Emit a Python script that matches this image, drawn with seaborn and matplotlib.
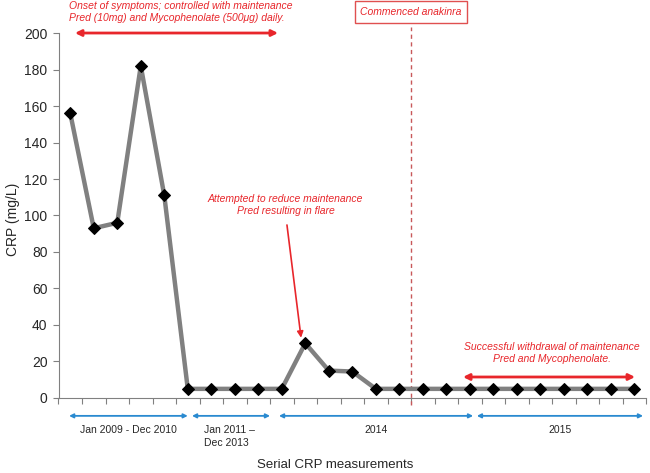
import numpy as np
import pandas as pd
import matplotlib
matplotlib.use("Agg")
import matplotlib.pyplot as plt
import matplotlib.transforms as mtransforms
import seaborn as sns

# ---- data ----
measurement = list(range(25))
crp = [156, 93, 96, 182, 111, 5, 5, 5, 5, 5, 30, 15, 14.5,
       5, 5, 5, 5, 5, 5, 5, 5, 5, 5, 5, 5]
period_labels = ["Jan 2009 - Dec 2010", "Jan 2011 \u2013\nDec 2013", "2014", "2015"]
period_spans = [(-0.05, 5.0), (5.18, 8.5), (8.88, 17.14), (17.3, 24.37)]
y_ticks = [0, 20, 40, 60, 80, 100, 120, 140, 160, 180, 200]
anakinra_x = 14.5

sns.set_style("ticks")
plt.rcParams['font.family'] = ['Liberation Sans', 'DejaVu Sans']

df = pd.DataFrame({"m": measurement, "crp": crp})

fig = plt.figure(figsize=(6.5, 4.73), dpi=100)
ax = fig.add_axes([0.09, 0.1586, 0.904, 0.7716])

sns.lineplot(data=df, x="m", y="crp", ax=ax, color="#808080", linewidth=3.2,
             marker="D", markersize=5.8, markerfacecolor="black",
             markeredgecolor="black", zorder=3)

ax.set_xlim(-0.5, 24.5)
ax.set_ylim(0, 200)
ax.set_yticks(y_ticks)
ax.set_xticks(np.arange(-0.5, 25, 1))
ax.set_xticklabels([])
ax.tick_params(axis="y", labelsize=10, length=4, color="#808080", width=0.8, pad=4)
ax.tick_params(axis="x", length=4, color="#808080", width=0.8)
for s in ["top", "right"]:
    ax.spines[s].set_visible(False)
for s in ["left", "bottom"]:
    ax.spines[s].set_color("#808080")
    ax.spines[s].set_linewidth(0.8)
ax.set_ylabel("CRP (mg/L)", fontsize=10)
ax.yaxis.set_label_coords(-0.066, 0.49)
ax.set_xlabel("")

red = "#e8262b"
blue = "#2a8ad0"
fs = 7.5
trans = mtransforms.blended_transform_factory(ax.transData, ax.transAxes)

# anakinra dashed line and box
ax.plot([anakinra_x, anakinra_x], [-0.02, 1.016], transform=trans,
        color="#c8585a", linestyle=(0, (3, 2.5)), linewidth=1.0,
        clip_on=False, zorder=1)
ax.text(anakinra_x, 1.0575, "Commenced anakinra", transform=trans, ha="center",
        va="center", fontsize=fs, style="italic", color=red,
        bbox=dict(boxstyle="square,pad=0.55", fc="white", ec="#e05050", lw=1.0))

# onset annotation
ax.text(-0.05, 1.0575, "Onset of symptoms; controlled with maintenance\n"
        "Pred (10mg) and Mycophenolate (500\u03bcg) daily.",
        transform=trans, ha="left", va="center", fontsize=fs,
        style="italic", color=red, linespacing=1.25)
ax.annotate("", xy=(0.2, 200), xytext=(8.84, 200),
            arrowprops=dict(arrowstyle="<|-|>", color=red, lw=2.0,
                            mutation_scale=9, shrinkA=0, shrinkB=0),
            annotation_clip=False)

# flare annotation
ax.text(9.16, 105.8, "Attempted to reduce maintenance\nPred resulting in flare",
        ha="center", va="center", fontsize=fs, style="italic", color=red,
        linespacing=1.25)
ax.annotate("", xy=(9.82, 33), xytext=(9.22, 94.8),
            arrowprops=dict(arrowstyle="-|>", color=red, lw=1.2,
                            mutation_scale=9, shrinkA=0, shrinkB=0))

# withdrawal annotation
ax.text(20.5, 24.7, "Successful withdrawal of maintenance\nPred and Mycophenolate.",
        ha="center", va="center", fontsize=fs, style="italic", color=red,
        linespacing=1.25)
ax.annotate("", xy=(16.71, 11.5), xytext=(24.03, 11.5),
            arrowprops=dict(arrowstyle="<|-|>", color=red, lw=2.0,
                            mutation_scale=9, shrinkA=0, shrinkB=0),
            annotation_clip=False)

# period arrows below axis
for (x0, x1), lab in zip(period_spans, period_labels):
    ax.annotate("", xy=(x0, -0.049), xytext=(x1, -0.049), xycoords=trans,
                textcoords=trans,
                arrowprops=dict(arrowstyle="<|-|>", color=blue, lw=1.3,
                                mutation_scale=6, shrinkA=0, shrinkB=0),
                annotation_clip=False)
    if "\n" in lab:
        ax.text(x0 + 0.5, -0.073, lab, transform=trans, ha="left", va="top",
                fontsize=fs, linespacing=1.4)
    else:
        ax.text((x0 + x1) / 2, -0.073, lab, transform=trans, ha="center",
                va="top", fontsize=fs)

fig.text(0.515, 0.017, "Serial CRP measurements", ha="center", va="center",
         fontsize=9.5)

fig.savefig("out.png", dpi=100)
